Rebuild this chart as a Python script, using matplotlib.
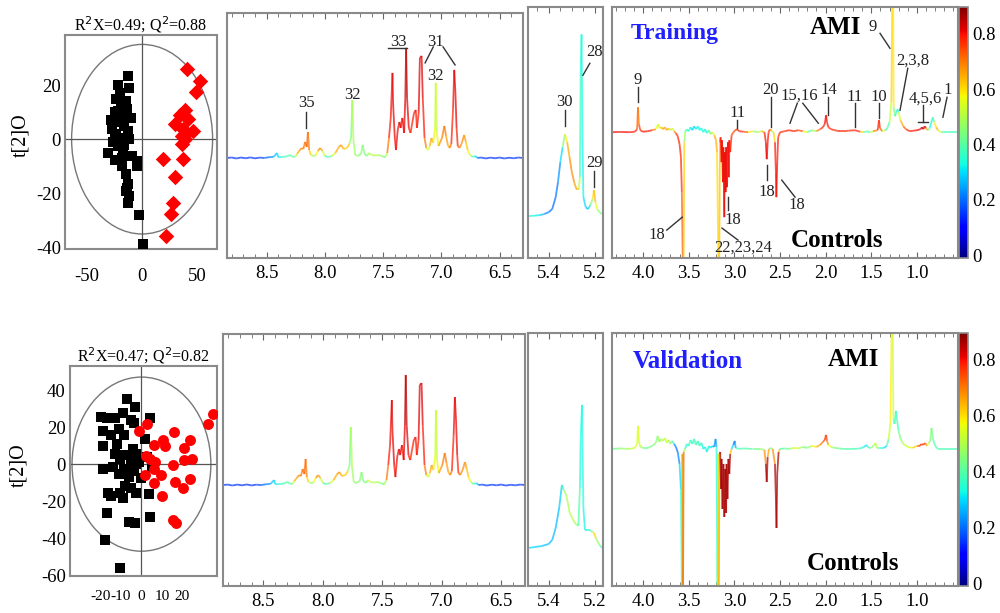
import matplotlib
matplotlib.use("Agg")
import matplotlib.pyplot as plt
import numpy as np
from matplotlib.collections import LineCollection
from matplotlib.patches import Ellipse
from matplotlib.colors import Normalize
from matplotlib.cm import ScalarMappable
from matplotlib.ticker import MultipleLocator, FormatStrFormatter

plt.rcParams["font.family"] = ["Liberation Serif", "DejaVu Serif"]
plt.rcParams["axes.unicode_minus"] = False

# ---------------- score plots (OPLS-DA) ----------------
train_ctrl_x = [-13, -22, -12, -24, -15, -19, -25, -10, -18, -25, -16, -27, -13, -24, -19, -25, -12,
                -16, -22, -31, -9, -18, -4.5, -25, -4.5, -18, -15, -13, -15, -12, -13, -3, 1,
                -20, -28, -17, -22, -14, -26, -14]
train_ctrl_y = [23.5, 20, 19, 15, 14, 12.7, 10, 8, 8, 6.3, 5, 3.8, 3.2, 1.9, 0.6, 0, 0,
                -2, -2.5, -5, -6.3, -7, -8, -7.6, -10, -10, -13, -16.5, -19, -21, -23.5, -28, -38.7,
                17, 7, -4, 10.5, 11, -1, -18]
train_ami_x = [41, 53, 48.7, 39, 34, 42, 30, 37, 46, 36, 39, 36, 19, 37, 30, 28, 26, 22, 39]
train_ami_y = [26, 21.6, 17.5, 10.8, 8.9, 7.6, 5.7, 3.8, 3.2, 1.3, 0, -1.9, -7.4, -7.4, -14,
               -23.5, -27.7, -35.6, 1.9]

valid_ctrl_x = [-7, -3, -9, -20, -17, -13, 4, -5, -19, -11, -3.5, -15, -8.7, 1.7, -19, -12, -4,
                -13, -8, -2.6, 2.6, -10.4, -5, -1, 5, -18.6, -8.7, -3.5, -11, -6, 0, -8, -5,
                -10.4, -16.5, -15, -2.6, 3.5, -9, -17, 4, -6, -3, -18, -10.4, -5, -14, -2.6]
valid_ctrl_y = [35, 30.6, 27.5, 25.7, 25, 24.8, 24.8, 23.9, 18, 19, 22, 16, 16, 13.8, 10, 11, 8,
                5.5, 5, 5.5, 3.7, 2.8, 1.8, 0.9, -1.8, -2.8, -2.8, -3.7, -5.5, -6.8, -7.3, -12, -12.8,
                -15.6, -15.6, -17.4, -15.6, -16, -18.3, -26.6, -28.4, -31, -32, -40.7, -56, 3.7, -1.8, 0]
valid_ami_x = [34.8, 32.7, 2.6, -1.2, 16, 24, 10.4, 6, 11.3, 20.9, 2.3, 4.3, 25, 20.9, 6.4, 15.6,
               6, 1.7, 9.6, 24, 16.5, 6, 20.5, 10, 15.3, 16.9]
valid_ami_y = [27, 21.7, 21.7, 17.8, 17.4, 12.8, 12.8, 10.6, 10, 8.6, 4.6, 2.8, 2.8, 2.2, 0.9, -0.5,
               -2.8, -5.9, -5.9, -7.9, -9.7, -10, -13, -17.4, -30, -32]

score_titles = ["R$^2$X=0.49; Q$^2$=0.88", "R$^2$X=0.47; Q$^2$=0.82"]

# ---------------- spectra: (ppm, intensity, correlation) ----------------
arom_rows = [
    (8.84, 0, .15), (8.80, 0.5, .15), (8.76, -0.5, .15), (8.72, 0.5, .15), (8.68, -0.3, .15),
    (8.64, 0.6, .15), (8.60, -0.4, .15), (8.56, 0.4, .15), (8.52, 0, .18), (8.48, 0.8, .2),
    (8.44, 1.2, .25), (8.41, 5, .3), (8.40, 0.8, .3), (8.37, 1, .35), (8.33, 1.5, .38),
    (8.30, 3, .4), (8.28, 1.5, .38), (8.255, 1.0, .4), (8.24, 4, .62), (8.22, 7, .68),
    (8.20, 10, .68), (8.185, 9, .68), (8.17, 16, .72), (8.155, 11, .72), (8.145, 26, .72),
    (8.135, 8, .68), (8.12, 3, .55), (8.10, 2, .45), (8.08, 2.5, .45), (8.06, 7, .68),
    (8.04, 10, .68), (8.02, 7, .65), (8.00, 2, .4), (7.97, 1, .35), (7.94, 2, .45),
    (7.91, 5, .62), (7.88, 11, .68), (7.86, 13, .68), (7.84, 9, .62), (7.81, 10, .62),
    (7.79, 14, .62), (7.775, 20, .3), (7.765, 58, .55), (7.755, 18, .45), (7.74, 3, .5),
    (7.72, 2, .45), (7.69, 4, .45), (7.675, 13, .45), (7.66, 4, .45), (7.64, 2, .38),
    (7.62, 5, .55), (7.60, 3, .5), (7.57, 2.5, .5), (7.54, 3, .5), (7.50, 1.5, .45),
    (7.485, 0.5, .35), (7.465, 5, .62), (7.45, 20, .78), (7.435, 40, .8), (7.42, 85, .8),
    (7.415, 55, .83), (7.40, 20, .8), (7.39, 8, .8), (7.375, 28, .81), (7.36, 36, .81),
    (7.35, 30, .81), (7.335, 40, .81), (7.32, 25, .8), (7.31, 60, .83), (7.303, 110, .86),
    (7.295, 60, .83), (7.28, 30, .8), (7.265, 25, .78), (7.25, 35, .78), (7.235, 45, .8),
    (7.22, 48, .8), (7.21, 30, .78), (7.195, 45, .8), (7.185, 100, .83), (7.17, 102, .83),
    (7.16, 60, .81), (7.145, 20, .77), (7.13, 10, .62), (7.115, 8, .45), (7.10, 12, .62),
    (7.085, 20, .68), (7.07, 15, .62), (7.055, 30, .5), (7.049, 75, .55), (7.04, 25, .5),
    (7.025, 12, .65), (7.01, 16, .68), (6.995, 20, .68), (6.975, 32, .72), (6.96, 22, .68),
    (6.945, 13, .65), (6.93, 10, .65), (6.915, 14, .77), (6.90, 50, .8), (6.89, 88, .81),
    (6.88, 65, .83), (6.87, 30, .8), (6.86, 12, .77), (6.845, 10, .68), (6.825, 15, .68),
    (6.805, 23, .68), (6.79, 16, .65), (6.775, 8, .6), (6.76, 4, .55), (6.745, 2, .45),
    (6.73, 1, .38), (6.71, 2, .35), (6.69, 0, .2), (6.66, 0.5, .15), (6.62, -0.5, .15),
    (6.58, 0.4, .15), (6.54, -0.3, .15), (6.50, 0.5, .15), (6.46, -0.5, .15), (6.42, 0.3, .15),
    (6.38, -0.3, .15), (6.34, 0.5, .15), (6.30, 0, .15),
]

train_anomeric_rows = [
    (5.49, 1, .33), (5.46, 1.5, .33), (5.44, 2, .3), (5.42, 3, .25), (5.40, 5, .2),
    (5.385, 8, .2), (5.37, 20, .2), (5.36, 35, .22), (5.35, 55, .25), (5.34, 70, .35),
    (5.33, 83, .55), (5.32, 75, .62), (5.31, 60, .68), (5.30, 45, .68), (5.29, 35, .68),
    (5.28, 28, .65), (5.27, 28, .62), (5.265, 40, .4), (5.262, 140, .34), (5.258, 183, .33),
    (5.254, 80, .33), (5.25, 20, .32), (5.24, 10, .28), (5.23, 8, .25), (5.22, 12, .35),
    (5.21, 18, .55), (5.204, 27, .65), (5.198, 15, .62), (5.19, 8, .5), (5.18, 5, .45),
    (5.17, 3, .4),
]

valid_anomeric_rows = [
    (5.49, 0, .3), (5.46, 1, .3), (5.43, 2, .28), (5.40, 4, .27), (5.385, 8, .27),
    (5.37, 20, .27), (5.355, 40, .27), (5.343, 63, .3), (5.335, 58, .45), (5.323, 52, .5),
    (5.309, 35, .5), (5.287, 25, .5), (5.272, 22, .45), (5.265, 60, .34), (5.262, 108, .33),
    (5.256, 143, .33), (5.25, 40, .33), (5.243, 18, .32), (5.222, 18, .32), (5.21, 16, .5),
    (5.204, 15, .68), (5.196, 10, .55), (5.178, 2, .38), (5.165, 0, .35),
]

train_aliph_rows = [
    (4.34, 0, .8), (4.25, 0.3, .8), (4.15, 0, .8), (4.09, 0.5, .78), (4.065, 3, .77),
    (4.055, 25, .68), (4.045, 8, .72), (4.03, 2, .78), (4.00, 0.5, .8), (3.95, 1, .8),
    (3.90, 2, .78), (3.86, 3, .62), (3.835, 8, .5), (3.82, 4, .55), (3.80, 5, .62),
    (3.78, 3, .68), (3.76, 5, .65), (3.74, 2, .62), (3.72, 4, .68), (3.70, 2, .55),
    (3.68, 4, .45), (3.66, 1, .62), (3.64, -1, .77), (3.62, -4, .78), (3.60, -12, .78),
    (3.585, -25, .78), (3.575, -60, .77), (3.565, -130, .68), (3.555, -130, .68), (3.548, -10, .55),
    (3.54, 0, .4), (3.52, 3, .38), (3.50, 1, .35), (3.48, 5, .33), (3.46, 2, .3),
    (3.44, 6, .28), (3.42, 3, .35), (3.40, 6, .3), (3.38, 2, .35), (3.36, 4, .3),
    (3.34, 0, .38), (3.32, 3, .3), (3.30, -1, .35), (3.28, 2, .4), (3.26, -2, .45),
    (3.24, 0, .5), (3.22, -3, .62), (3.20, -8, .68), (3.19, -20, .62), (3.175, -130, .58),
    (3.165, -130, .58), (3.158, -10, .68), (3.15, -5, .8), (3.14, -30, .8), (3.135, -8, .8),
    (3.125, -50, .81), (3.12, -15, .8), (3.11, -85, .81), (3.105, -20, .81), (3.095, -60, .81),
    (3.09, -15, .81), (3.08, -55, .81), (3.07, -10, .8), (3.06, -45, .81), (3.055, -8, .8),
    (3.045, -20, .78), (3.03, -3, .77), (3.01, 0, .72), (2.99, 2, .77), (2.97, 3, .78),
    (2.95, 1, .78), (2.90, 0.5, .77), (2.85, 0, .68), (2.80, 1, .5), (2.75, 0, .45),
    (2.70, 1, .55), (2.67, 0, .77), (2.655, -10, .81), (2.645, -27, .81), (2.635, -10, .81),
    (2.625, 0, .77), (2.61, 3, .77), (2.59, 1, .55), (2.57, 0, .45), (2.555, -10, .78),
    (2.545, -40, .8), (2.54, -65, .8), (2.53, -30, .8), (2.52, -5, .78), (2.50, 0, .77),
    (2.45, 1, .77), (2.40, 2, .8), (2.35, 1, .77), (2.30, 2, .8), (2.25, 1, .68),
    (2.20, 0, .45), (2.15, 2, .35), (2.10, 1, .62), (2.06, 3, .77), (2.03, 5, .78),
    (2.01, 8, .8), (1.995, 17, .8), (1.985, 10, .8), (1.97, 5, .78), (1.94, 3, .78),
    (1.90, 2, .78), (1.85, 1, .77), (1.80, 1, .78), (1.75, 1.5, .78), (1.68, 2, .78),
    (1.62, 0.5, .77), (1.58, 0, .45), (1.55, 1, .35), (1.52, 0, .4), (1.48, 1, .62),
    (1.43, 2, .77), (1.415, 12, .78), (1.405, 4, .77), (1.38, 1, .68), (1.35, 2, .4),
    (1.33, 3, .3), (1.30, 10, .5), (1.28, 30, .55), (1.27, 130, .68), (1.26, 130, .68),
    (1.255, 25, .5), (1.24, 16, .38), (1.225, 20, .35), (1.21, 23, .3), (1.20, 20, .45),
    (1.18, 12, .62), (1.15, 6, .68), (1.12, 3, .77), (1.08, 1, .78), (1.04, 1.5, .8),
    (1.00, 2, .8), (0.96, 3, .83), (0.945, 5, .83), (0.93, 3, .83), (0.915, 6, .83),
    (0.90, 4, .8), (0.88, 2, .55), (0.86, 4, .35), (0.845, 9, .3), (0.825, 15, .35),
    (0.81, 10, .5), (0.79, 5, .68), (0.77, 2, .62), (0.74, 0, .45), (0.70, 0, .38),
    (0.62, 0, .38), (0.55, 0, .38),
]

valid_aliph_rows = [
    (4.34, 0, .4), (4.25, 0.5, .45), (4.15, 0, .5), (4.09, 1, .55), (4.065, 5, .55),
    (4.055, 23, .55), (4.045, 8, .55), (4.03, 2, .5), (4.00, 1, .45), (3.95, 1, .4),
    (3.90, 3, .45), (3.86, 6, .45), (3.84, 13, .45), (3.82, 7, .5), (3.80, 10, .45),
    (3.78, 8, .55), (3.76, 11, .5), (3.74, 6, .55), (3.72, 9, .5), (3.70, 5, .45),
    (3.68, 8, .5), (3.66, 5, .25), (3.64, 2, .2), (3.62, -3, .2), (3.60, -15, .25),
    (3.585, -40, .35), (3.575, -140, .35), (3.57, -5, .5), (3.562, -140, .81), (3.555, -3, .62),
    (3.54, 0, .35), (3.52, 5, .35), (3.50, 3, .38), (3.48, 9, .35), (3.46, 5, .4),
    (3.44, 10, .35), (3.42, 4, .38), (3.40, 8, .35), (3.38, 3, .4), (3.36, 6, .35),
    (3.34, 0, .3), (3.32, 2, .35), (3.30, -3, .3), (3.28, 3, .35), (3.26, 1, .3),
    (3.24, 3, .3), (3.22, 2, .25), (3.205, 10, .2), (3.195, 2, .3), (3.185, -140, .38),
    (3.178, -5, .5), (3.17, -140, .68), (3.162, -5, .62), (3.155, -3, .86), (3.145, -40, .86),
    (3.14, -10, .86), (3.13, -60, .86), (3.12, -15, .86), (3.11, -68, .86), (3.10, -20, .86),
    (3.09, -64, .86), (3.085, -15, .86), (3.075, -50, .86), (3.065, -10, .86), (3.055, -25, .86),
    (3.045, -5, .86), (3.03, 0, .4), (3.01, 4, .2), (2.995, 8, .15), (2.985, 1, .35),
    (2.95, 0, .4), (2.90, 0.5, .38), (2.80, 0, .4), (2.72, 0, .45), (2.67, -1, .5),
    (2.655, -15, .86), (2.645, -33, .86), (2.635, -8, .86), (2.62, 0, .45), (2.60, 1, .4),
    (2.58, 0, .5), (2.555, -15, .86), (2.545, -50, .86), (2.538, -79, .86), (2.53, -25, .86),
    (2.515, -3, .86), (2.50, 0, .4), (2.45, 0.5, .38), (2.40, 0, .45), (2.35, 1, .55),
    (2.30, 0.5, .55), (2.25, 2, .45), (2.20, 1, .4), (2.15, 3, .55), (2.10, 2, .62),
    (2.06, 4, .68), (2.03, 7, .72), (2.01, 9, .77), (1.995, 14, .78), (1.985, 8, .72),
    (1.97, 4, .62), (1.94, 2, .5), (1.90, 1, .45), (1.85, 0.5, .4), (1.80, 0, .4),
    (1.70, 0, .38), (1.62, 0.5, .38), (1.58, 2, .3), (1.55, 4, .32), (1.53, 1, .38),
    (1.50, 1, .45), (1.47, 4, .5), (1.455, 6, .55), (1.44, 1, .45), (1.40, 1, .38),
    (1.36, 1, .3), (1.33, 3, .3), (1.31, 10, .5), (1.29, 25, .55), (1.275, 130, .62),
    (1.265, 130, .62), (1.258, 30, .45), (1.245, 25, .4), (1.23, 38, .36), (1.22, 30, .36),
    (1.20, 18, .4), (1.18, 10, .45), (1.15, 5, .5), (1.10, 2, .55), (1.05, 1, .55),
    (1.00, 3, .68), (0.97, 3, .77), (0.95, 5, .77), (0.93, 4, .77), (0.91, 6, .78),
    (0.89, 3, .62), (0.87, 6, .45), (0.855, 8, .45), (0.84, 21, .45), (0.825, 10, .4),
    (0.80, 3, .4), (0.77, 0, .38), (0.70, 0, .38), (0.55, 0, .38),
]

# peak labels: (text, ppm, height) and leader lines ((ppm1, h1), (ppm2, h2))
arom_labels = [("35", 8.16, 55), ("32", 7.765, 63), ("33", 7.37, 116), ("31", 7.055, 116),
               ("32", 7.055, 82)]
arom_leaders = [((8.16, 46), (8.16, 30)), ((7.457, 110), (7.294, 110)),
                ((7.07, 111), (7.14, 95)), ((6.986, 111), (6.883, 93))]
anom_labels = [("30", 5.33, 115), ("28", 5.20, 165), ("29", 5.204, 54)]
anom_leaders = [((5.33, 107), (5.33, 91)), ((5.222, 154), (5.252, 142)), ((5.204, 46), (5.204, 30))]
aliph_labels = [("9", 4.055, 52), ("11", 2.97, 19), ("20", 2.60, 42), ("15,16", 2.29, 37),
                ("14", 1.97, 42), ("11", 1.68, 35), ("10", 1.415, 35), ("9", 1.48, 105),
                ("2,3,8", 1.05, 72), ("4,5,6", 0.91, 34), ("1", 0.66, 42),
                ("18", 2.64, -60), ("18", 2.31, -73), ("18", 3.015, -88), ("18", 3.85, -103),
                ("22,23,24", 2.90, -116)]
aliph_leaders = [((4.055, 45), (4.055, 30)), ((2.97, 12), (2.97, 4)), ((2.60, 35), (2.60, 5)),
                 ((2.31, 29), (2.39, 9)), ((2.25, 29), (2.08, 9)), ((1.97, 35), (1.97, 17)),
                 ((1.68, 29), (1.68, 5)), ((1.415, 29), (1.415, 14)), ((1.404, 99), (1.295, 84)),
                 ((1.10, 64), (1.185, 22)), ((0.93, 27), (0.93, 10)), ((0.99, 10), (0.88, 10)),
                 ((0.67, 35), (0.715, 15)), ((2.64, -33), (2.64, -48)), ((2.48, -48), (2.335, -65)),
                 ((3.07, -65), (3.07, -78)), ((3.74, -98), (3.57, -85)), ((3.135, -96), (2.96, -108))]

cbar_ticks = [0, 0.2, 0.4, 0.6, 0.8]
cbar_labels = ["0", "0.2", "0.4", "0.6", "0.8"]

# ---------------- drawing ----------------
norm = Normalize(vmin=-0.01, vmax=0.895)
cmap = plt.get_cmap("jet")
FRAME = "#8a8a8a"
FS = 13.5

fig = plt.figure(figsize=(10, 6.13), dpi=100)


def frame(ax):
    for s in ax.spines.values():
        s.set_color(FRAME)
        s.set_linewidth(1.5)


def score_panel(rect, cx, cy, ax_, ay_, amarker, xlim, ylim, xt, yt, ell, title, ylab_x,
                xpad, xfs):
    ax = fig.add_axes(rect)
    ax.add_patch(Ellipse((0, 0), ell[0], ell[1], fill=False, edgecolor="#777777", lw=1.0))
    ax.axhline(0, color="#555555", lw=0.9)
    ax.axvline(0, color="#555555", lw=0.9)
    ax.scatter(cx, cy, marker="s", s=58, color="black", linewidths=0, zorder=3)
    ax.scatter(ax_, ay_, marker=amarker, s=62, color="#ff0000", linewidths=0, zorder=3)
    ax.set_xlim(*xlim)
    ax.set_ylim(*ylim)
    ax.set_xticks(xt)
    ax.set_yticks(yt)
    ax.tick_params(length=0, labelsize=FS)
    ax.tick_params(axis="x", pad=xpad, labelsize=xfs)
    ax.tick_params(axis="y", pad=3)
    ax.set_title(title, fontsize=11.5, pad=3)
    ax.set_ylabel("t[2]O", fontsize=14.5)
    ax.yaxis.set_label_coords(ylab_x, 0.53)
    frame(ax)
    return ax


def spectrum_panel(rect, rows, xlim, ylim, major, minor, labels=(), leaders=()):
    ax = fig.add_axes(rect)
    ppm, inten, corr = np.array(rows).T
    pts = np.column_stack([ppm, inten])
    segs = np.stack([pts[:-1], pts[1:]], axis=1)
    lc = LineCollection(segs, cmap=cmap, norm=norm, linewidths=1.3, alpha=0.72)
    lc.set_array((corr[:-1] + corr[1:]) / 2)
    ax.add_collection(lc)
    ax.set_xlim(*xlim)
    ax.set_ylim(*ylim)
    ax.xaxis.set_major_locator(MultipleLocator(major))
    ax.xaxis.set_minor_locator(MultipleLocator(minor))
    ax.xaxis.set_major_formatter(FormatStrFormatter("%.1f"))
    ax.tick_params(which="both", direction="in", top=True, bottom=True, left=False,
                   labelleft=False, color="#666666", labelsize=FS, pad=5)
    ax.tick_params(which="major", length=4)
    ax.tick_params(which="minor", length=3)
    for txt, x, y in labels:
        ax.text(x, y, txt, fontsize=12, ha="center", va="center", color="#222222")
    for (x1, y1), (x2, y2) in leaders:
        ax.plot([x1, x2], [y1, y2], color="#333333", lw=1.0)
    frame(ax)
    return ax


def colorbar(rect):
    cax = fig.add_axes(rect)
    cb = fig.colorbar(ScalarMappable(norm=norm, cmap=cmap), cax=cax)
    cb.outline.set_edgecolor(FRAME)
    cb.outline.set_linewidth(1.2)
    cb.set_ticks(cbar_ticks)
    cb.set_ticklabels(cbar_labels)
    cax.tick_params(length=0, labelsize=FS, pad=3)


# top row: training
score_panel([0.065, 0.594, 0.152, 0.349], train_ctrl_x, train_ctrl_y, train_ami_x, train_ami_y,
            "D", (-70, 68), (-40.5, 38.5), [-50, 0, 50], [-40, -20, 0, 20], (128, 70),
            score_titles[0], -0.23, 14, FS)
spectrum_panel([0.227, 0.579, 0.296, 0.400], arom_rows, (8.84, 6.30), (-100, 145), 0.5, 0.1,
               arom_labels, arom_leaders)
spectrum_panel([0.528, 0.579, 0.075, 0.409], train_anomeric_rows, (5.49, 5.165), (-41, 210),
               0.2, 0.05, anom_labels, anom_leaders)
axc = spectrum_panel([0.612, 0.579, 0.346, 0.409], train_aliph_rows, (4.34, 0.55), (-126, 125),
                     0.5, 0.1, aliph_labels, aliph_leaders)
axc.text(0.182, 0.896, "Training", transform=axc.transAxes, fontsize=17, fontweight="bold",
         color="#1f1fff", ha="center", va="center")
axc.text(0.645, 0.92, "AMI", transform=axc.transAxes, fontsize=18, fontweight="bold",
         ha="center", va="center")
axc.text(0.65, 0.072, "Controls", transform=axc.transAxes, fontsize=18, fontweight="bold",
         ha="center", va="center")
colorbar([0.959, 0.579, 0.009, 0.409])

# bottom row: validation
score_panel([0.07, 0.060, 0.147, 0.343], valid_ctrl_x, valid_ctrl_y, valid_ami_x, valid_ami_y,
            "o", (-35, 37), (-60.5, 53), [-20, -10, 0, 10, 20], [-60, -40, -20, 0, 20, 40],
            (68, 94), score_titles[1], -0.286, 10, 11)
spectrum_panel([0.223, 0.044, 0.302, 0.411], arom_rows, (8.84, 6.30), (-101, 151), 0.5, 0.1)
spectrum_panel([0.528, 0.044, 0.075, 0.413], valid_anomeric_rows, (5.49, 5.165), (-38, 215),
               0.2, 0.05)
axv = spectrum_panel([0.612, 0.044, 0.346, 0.413], valid_aliph_rows, (4.34, 0.55), (-137, 116),
                     0.5, 0.1)
axv.text(0.22, 0.885, "Validation", transform=axv.transAxes, fontsize=18, fontweight="bold",
         color="#1f1fff", ha="center", va="center")
axv.text(0.697, 0.893, "AMI", transform=axv.transAxes, fontsize=18, fontweight="bold",
         ha="center", va="center")
axv.text(0.697, 0.09, "Controls", transform=axv.transAxes, fontsize=18, fontweight="bold",
         ha="center", va="center")
colorbar([0.959, 0.044, 0.009, 0.413])

fig.savefig("out.png", dpi=100)
